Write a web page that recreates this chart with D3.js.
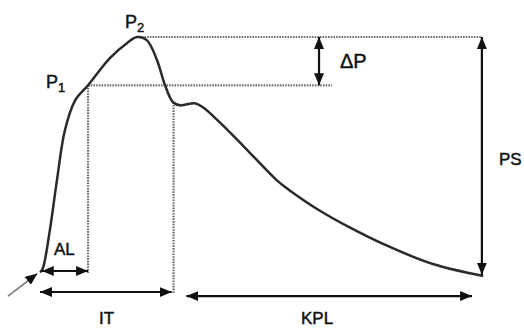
<!DOCTYPE html>
<html>
<head>
<meta charset="utf-8">
<script src="https://cdn.jsdelivr.net/npm/d3@7"></script>
<style>
  body { margin: 0; background: #fff; }
  text { font-family: "Liberation Sans", Arial, sans-serif; fill: #111; stroke: #111; stroke-width: 0.45; }
</style>
</head>
<body>
<script>
'use strict';

// pressure wave, time (0-100) vs pressure (0-100, P2 = 100)
let time = [0, 0.6, 2.2, 3.8, 5.6, 7.9, 10.8, 15.7, 19.6, 21.8, 24.0, 26.3, 28.1, 29.9,
  31.5, 34.8, 36.6, 40.4, 45.6, 53.3, 56.2, 62.9, 69.7, 77.1, 88.3, 99.6];
let pressure = [1.5, 3, 19, 40, 61, 73.5, 79.8, 91.2, 97.5, 100, 98.7, 90.3, 79.8, 72.7,
  71.4, 72.3, 70.6, 64.3, 54.6, 39.9, 35.7, 27.3, 20.2, 13.4, 5.0, 0];

// characteristic points
let p1 = { t: 10.8, p: 79.8 };
let p2 = { t: 21.8, p: 100 };
let notch = { t: 29.9, p: 72.7 };

// annotation levels
let dpT = 62.7, psT = 99.3;
let p1LineEnd = 65.6;
let alLevel = 2.1, itLevel = -6.7, kplLevel = -8.4;
let alStart = 0.4, itStart = 0, itEnd = 29.6, kplStart = 32.9, kplEnd = 97.1;
let leadIn = [{ t: -7.2, p: -8.4 }, { t: -0.6, p: 1.0 }];

let width = 524, height = 329;

let svg = d3.select('body').append('svg')
  .attr('width', width)
  .attr('height', height);

let x = d3.scaleLinear().domain([0, 100]).range([40, 485]);
let y = d3.scaleLinear().domain([0, 100]).range([276, 37]);

// arrowhead marker
let defs = svg.append('defs');
defs.append('marker')
  .attr('id', 'head')
  .attr('markerUnits', 'userSpaceOnUse')
  .attr('viewBox', '0 0 12 10')
  .attr('refX', 12).attr('refY', 5)
  .attr('markerWidth', 12).attr('markerHeight', 10)
  .attr('orient', 'auto-start-reverse')
  .append('path')
    .attr('d', 'M0,0 L12,5 L0,10 Z')
    .attr('fill', '#111');

let dotted = function(x1, y1, x2, y2) {
  svg.append('line')
    .attr('x1', x1).attr('y1', y1).attr('x2', x2).attr('y2', y2)
    .attr('stroke', '#6f6f6f')
    .attr('stroke-width', 2.2)
    .attr('stroke-dasharray', '1.6,1.1');
};

let arrow = function(x1, y1, x2, y2, both) {
  let a = svg.append('line')
    .attr('x1', x1).attr('y1', y1).attr('x2', x2).attr('y2', y2)
    .attr('stroke', '#111')
    .attr('stroke-width', 2.2)
    .attr('marker-end', 'url(#head)');
  if (both) a.attr('marker-start', 'url(#head)');
};

// dotted guide lines
dotted(x(p2.t) + 2, y(p2.p), x(psT), y(p2.p));
dotted(x(p1.t), y(p1.p), x(p1LineEnd), y(p1.p));
dotted(x(p1.t), y(p1.p), x(p1.t), y(alLevel) + 2);
dotted(x(notch.t) + 0.5, y(notch.p), x(notch.t) + 0.5, y(itLevel) + 2);

// curve
let pts = time.map((t, i) => [t, pressure[i]]);
let line = d3.line()
  .x(d => x(d[0]))
  .y(d => y(d[1]))
  .curve(d3.curveCatmullRom);

svg.append('path')
  .datum(pts)
  .attr('d', line)
  .attr('fill', 'none')
  .attr('stroke', '#2a2a2a')
  .attr('stroke-width', 2.5)
  .attr('stroke-linejoin', 'round');

// lead-in arrow
svg.append('line')
  .attr('x1', x(leadIn[0].t)).attr('y1', y(leadIn[0].p))
  .attr('x2', x(leadIn[1].t)).attr('y2', y(leadIn[1].p))
  .attr('stroke', '#777')
  .attr('stroke-width', 1.6)
  .attr('marker-end', 'url(#head)');

// delta P and PS arrows
arrow(x(dpT), y(p2.p), x(dpT), y(p1.p), true);
arrow(x(psT), y(p2.p), x(psT), y(0.5), true);

// time arrows
arrow(x(alStart), y(alLevel), x(p1.t), y(alLevel), true);
arrow(x(itStart), y(itLevel), x(itEnd), y(itLevel), true);
arrow(x(kplStart), y(kplLevel), x(kplEnd), y(kplLevel), true);

// labels
let label = function(tx, ty, main, sub, size) {
  let t = svg.append('text')
    .attr('x', tx).attr('y', ty)
    .attr('font-size', size)
    .text(main);
  if (sub) {
    t.append('tspan')
      .attr('font-size', size * 0.72)
      .attr('dy', 4)
      .text(sub);
  }
};

label(46, 88, 'P', '1', 18);
label(125, 28, 'P', '2', 18);
label(340, 68, 'ΔP', null, 20);
label(499, 165, 'PS', null, 17);
label(54, 255, 'AL', null, 17);
label(99, 324, 'IT', null, 17);
label(301, 324, 'KPL', null, 17);
</script>
</body>
</html>
